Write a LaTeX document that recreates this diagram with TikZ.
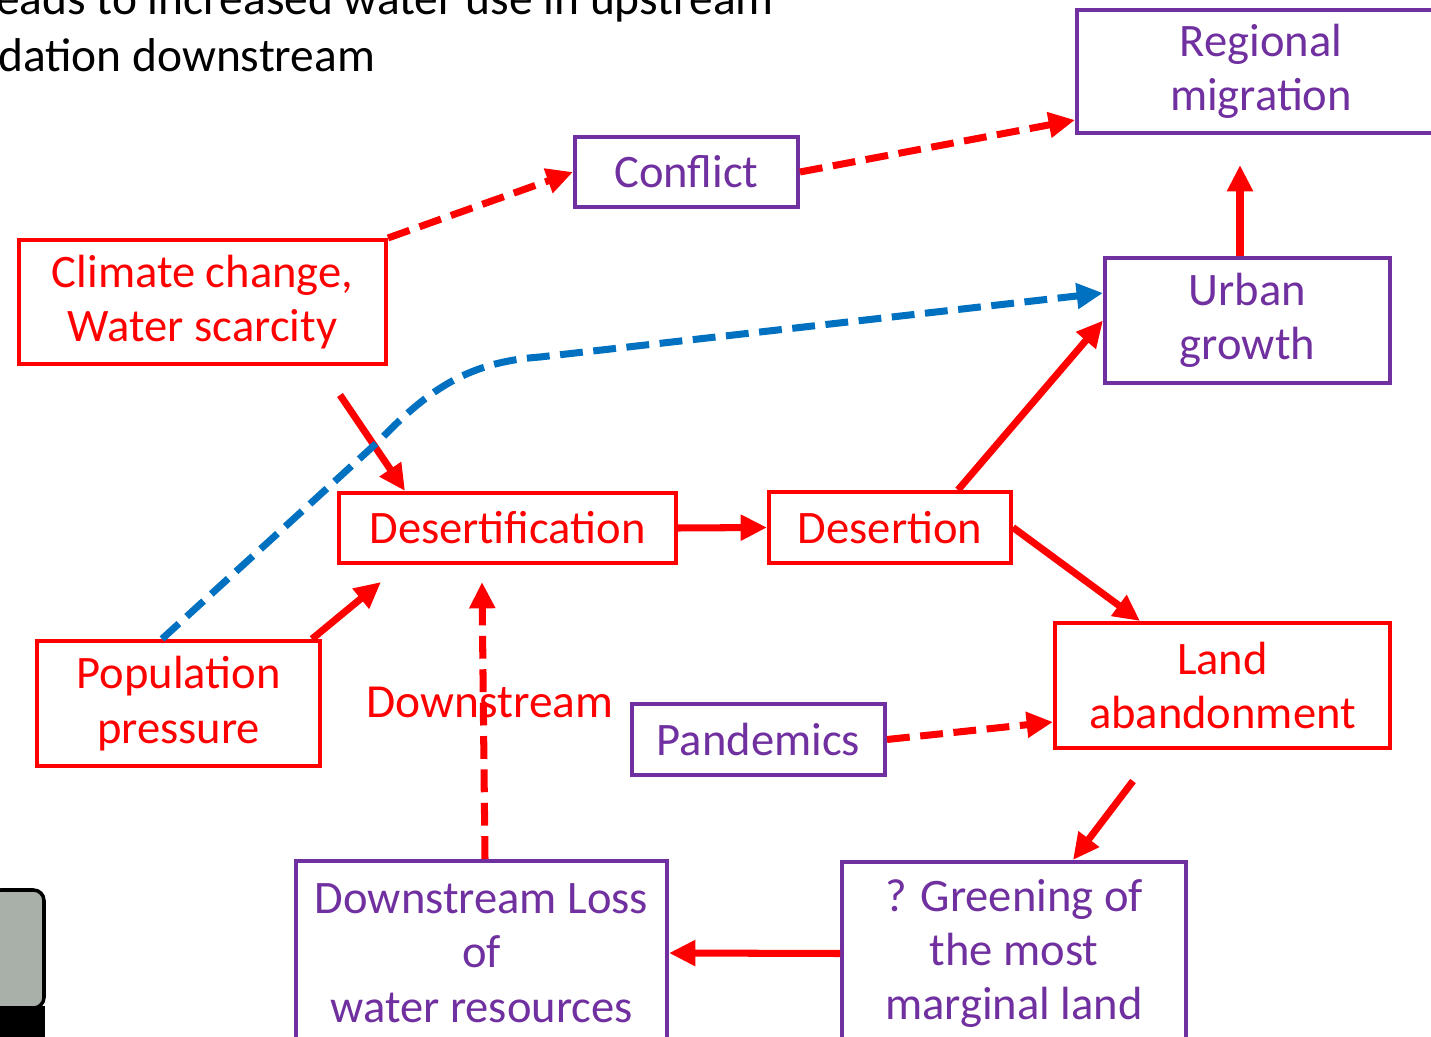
\documentclass[tikz,border=0pt]{standalone}
\usepackage{fontspec}
\setmainfont{Carlito}
\usepackage{xcolor}
\usepackage{tikz}
\usetikzlibrary{arrows.meta}
\definecolor{boxred}{HTML}{FF0000}
\definecolor{boxpurple}{HTML}{7030A0}
\definecolor{flowblue}{HTML}{0070C0}
\definecolor{slidegray}{HTML}{A9AFA9}

\begin{document}
\begin{tikzpicture}[x=0.02cm, y=-0.02cm,
  box/.style={rectangle, draw, line width=2.3pt, fill=white, align=center, inner sep=0pt, font=\fontsize{26.5}{31}\selectfont},
  redbox/.style={box, draw=boxred, text=boxred},
  purplebox/.style={box, draw=boxpurple, text=boxpurple},
  redarrow/.style={draw=boxred, line width=4pt, -{Triangle[length=15pt,width=14pt]}},
  reddash/.style={redarrow, dash pattern=on 13pt off 6pt},
  bluedash/.style={draw=flowblue, line width=4pt, dash pattern=on 13pt off 6pt, -{Triangle[length=15pt,width=14pt]}}]
\useasboundingbox (0,0) rectangle (1431,1037);
\clip (0,0) rectangle (1431,1037);
\node[anchor=base west, font=\fontsize{27}{33}\selectfont] (headA) at (-10,15) {eads to increased water use in upstream};
\node[anchor=base west, font=\fontsize{27}{33}\selectfont] (headB) at (-8,72) {dation downstream};
\node[purplebox, minimum width=7.36cm, minimum height=2.46cm] (regmig) at (1261,71.5) {Regional\\migration};
\node[purplebox, minimum width=4.46cm, minimum height=1.4cm] (conflict) at (686.5,172) {Conflict};
\node[redbox, minimum width=7.34cm, minimum height=2.48cm] (climate) at (202.5,302) {Climate change,\\Water scarcity};
\node[purplebox, minimum width=5.7cm, minimum height=2.5cm] (urban) at (1247.5,320.5) {Urban\\growth};
\node[redbox, minimum width=6.74cm, minimum height=1.4cm] (desertif) at (507.5,528) {Desertification};
\node[redbox, minimum width=4.84cm, minimum height=1.42cm] (desertion) at (890,527.5) {Desertion};
\node[redbox, minimum width=6.7cm, minimum height=2.5cm] (landab) at (1222.5,685.5) {Land\\abandonment};
\node[redbox, minimum width=5.66cm, minimum height=2.5cm] (poppress) at (178.5,703.5) {Population\\pressure};
\node[purplebox, minimum width=5.06cm, minimum height=1.42cm] (pandemics) at (758.5,739.5) {Pandemics};
\node[purplebox, minimum width=7.42cm, minimum height=3.68cm] (dsloss) at (481.5,953) {Downstream Loss\\of\\water resources};
\node[purplebox, minimum width=6.88cm, minimum height=3.66cm] (greening) at (1014,953.5) {? Greening of\\the most\\marginal land};
\node[text=boxred, font=\fontsize{27}{31}\selectfont] (dslabel) at (490,702) {Downstream};
\coordinate (ccfoot) at (340,395);
\fill[black] (-10,1006) rectangle (45,1045);
\draw[line width=2pt, fill=slidegray, rounded corners=6pt] (-10,890) rectangle (44,1008);
\draw[reddash] (climate.north east) -- (conflict.west);
\draw[reddash] (conflict.east) -- ([yshift=0.3cm]regmig.south west);
\draw[redarrow] ([xshift=-0.15cm]urban.north) -- ([shift={(-0.15cm,-0.6cm)}]urban.north |- regmig.south);
\draw[redarrow] (ccfoot) -- ([xshift=-2.05cm]desertif.north);
\draw[redarrow] (desertif.east) -- (desertion.west);
\draw[redarrow] ([xshift=1.36cm]desertion.north) -- (urban.west);
\draw[redarrow] (desertion.east) -- ([xshift=-1.65cm]landab.north);
\draw[redarrow] ([xshift=-0.2cm]poppress.north east) -- ([shift={(0.88cm,-0.34cm)}]desertif.south west);
\draw[reddash] ([xshift=0.07cm]dsloss.north) -- ([shift={(-0.51cm,-0.34cm)}]desertif.south);
\draw[reddash] (pandemics.east) -- ([yshift=-0.73cm]landab.west);
\draw[redarrow] ([shift={(-1.79cm,-0.62cm)}]landab.south) -- ([xshift=1.18cm]greening.north);
\draw[redarrow] (greening.west) -- (dsloss.east);
\draw[bluedash] ([xshift=-0.33cm]poppress.north) -- (380,440) .. controls (430,388) and (470,362) .. (540,357) -- ([yshift=0.55cm]urban.west);
\end{tikzpicture}
\end{document}
